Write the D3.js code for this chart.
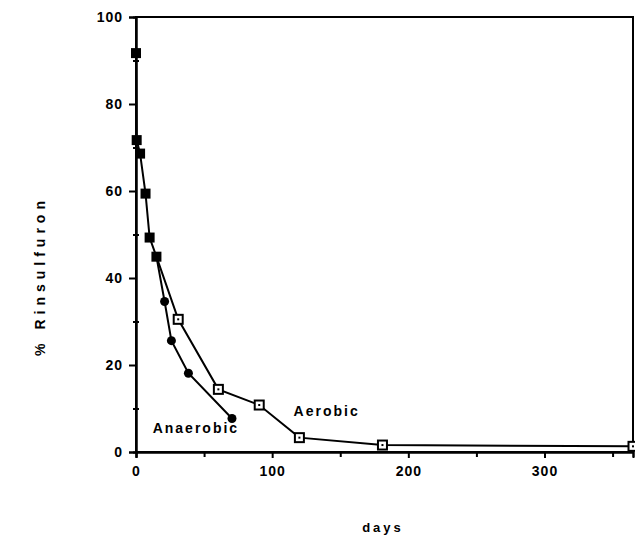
<!DOCTYPE html>
<html><head><meta charset="utf-8">
<script src="https://cdn.jsdelivr.net/npm/d3@7"></script>
<style>
html,body{margin:0;padding:0;background:#fff;}
svg{display:block;}
text{font-family:"Liberation Sans",Arial,sans-serif;font-weight:bold;fill:#000;}
</style></head>
<body>
<svg id="chart" width="635" height="535"></svg>
<script>
// shared early measurements (both conditions)
const initialDays   = [0, 0.5, 3, 7, 10, 15];
const initialValues = [91.7, 71.7, 68.6, 59.4, 49.3, 44.9];
// anaerobic series after divergence
const anaerobicDays   = [15, 21, 26, 38.5, 70.5];
const anaerobicValues = [44.9, 34.6, 25.6, 18.1, 7.7];
// aerobic series after divergence
const aerobicDays   = [15, 31, 60.5, 90.5, 120, 181, 365];
const aerobicValues = [44.9, 30.5, 14.4, 10.8, 3.3, 1.6, 1.3];
const xTicks = [0, 100, 200, 300];
const xMinorTicks = [50, 150, 250, 350];
const yTicks = [0, 20, 40, 60, 80, 100];
const yMinorTicks = [10, 30, 50, 70, 90];
const seriesLabels = ["Aerobic", "Anaerobic"];

(function () {
const svg = d3.select("#chart");
const mL = 136, mR = 633, mT = 17, mB = 452;
const x = d3.scaleLinear().domain([0, 365]).range([mL, mR]);
const y = d3.scaleLinear().domain([0, 100]).range([mB, mT]);

const zip = (a, b) => a.map((d, i) => [d, b[i]]);
const initPts = zip(initialDays, initialValues);
const anaPts = zip(anaerobicDays, anaerobicValues);
const aerPts = zip(aerobicDays, aerobicValues);

// frame
svg.append("rect").attr("x", mL).attr("y", mT)
  .attr("width", mR - mL).attr("height", mB - mT)
  .attr("fill", "none").attr("stroke", "#000").attr("stroke-width", 2);

// axes
const xAxis = svg.append("g").attr("transform", `translate(0,${mB})`)
  .call(d3.axisBottom(x).tickValues(xTicks).tickSize(6).tickPadding(8));
const xMinor = svg.append("g").attr("transform", `translate(0,${mB})`)
  .call(d3.axisBottom(x).tickValues(xMinorTicks).tickSize(5).tickFormat(""));
const yAxis = svg.append("g").attr("transform", `translate(${mL},0)`)
  .call(d3.axisLeft(y).tickValues(yTicks).tickSize(7).tickPadding(6));
const yMinor = svg.append("g").attr("transform", `translate(${mL},0)`)
  .call(d3.axisLeft(y).tickValues(yMinorTicks).tickSize(3).tickFormat(""));
[xAxis, xMinor, yAxis, yMinor].forEach(g => {
  g.select(".domain").attr("stroke", "#000").attr("stroke-width", 2);
  g.selectAll(".tick line").attr("stroke", "#000").attr("stroke-width", 2);
  g.selectAll(".tick text").attr("font-size", 14).attr("font-family", "'Liberation Sans',Arial,sans-serif")
    .attr("font-weight", "bold").attr("letter-spacing", 1);
});
yMinor.selectAll(".tick line").attr("x2", 3).attr("x1", -3);

const line = d3.line().x(d => x(d[0])).y(d => y(d[1]));
svg.append("path").datum(initPts).attr("d", line)
  .attr("fill", "none").attr("stroke", "#000").attr("stroke-width", 2);
svg.append("path").datum(aerPts).attr("d", line)
  .attr("fill", "none").attr("stroke", "#000").attr("stroke-width", 2);
svg.append("path").datum(anaPts).attr("d", line)
  .attr("fill", "none").attr("stroke", "#000").attr("stroke-width", 2);

// aerobic: open squares with dot
const aerG = svg.append("g").selectAll("g").data(aerPts.slice(1)).join("g")
  .attr("transform", d => `translate(${x(d[0])},${y(d[1])})`);
aerG.append("rect").attr("x", -4.5).attr("y", -4.5).attr("width", 9).attr("height", 9)
  .attr("fill", "#fff").attr("stroke", "#000").attr("stroke-width", 2);
aerG.append("rect").attr("x", -1).attr("y", -1).attr("width", 2).attr("height", 2).attr("fill", "#000");

// anaerobic: filled circles
svg.append("g").selectAll("circle").data(anaPts.slice(1)).join("circle")
  .attr("cx", d => x(d[0])).attr("cy", d => y(d[1])).attr("r", 4.5).attr("fill", "#000");

// shared early points: filled squares
svg.append("g").selectAll("rect").data(initPts).join("rect")
  .attr("x", d => x(d[0]) - 5).attr("y", d => y(d[1]) - 5)
  .attr("width", 10).attr("height", 10).attr("fill", "#000");

// series labels
svg.append("text").attr("x", x(140)).attr("y", y(8.2)).attr("font-size", 14)
  .attr("letter-spacing", 2).attr("text-anchor", "middle").text(seriesLabels[0]);
svg.append("text").attr("x", x(44)).attr("y", y(4.4)).attr("font-size", 14)
  .attr("letter-spacing", 2).attr("text-anchor", "middle").text(seriesLabels[1]);

// axis titles
svg.append("text").attr("x", 383).attr("y", 532).attr("font-size", 13)
  .attr("letter-spacing", 3).attr("text-anchor", "middle").text("days");
svg.append("text").attr("transform", "translate(45,276) rotate(-90)")
  .attr("font-size", 14).attr("letter-spacing", 5).attr("text-anchor", "middle")
  .text("% Rinsulfuron");
})();
</script>
</body></html>
